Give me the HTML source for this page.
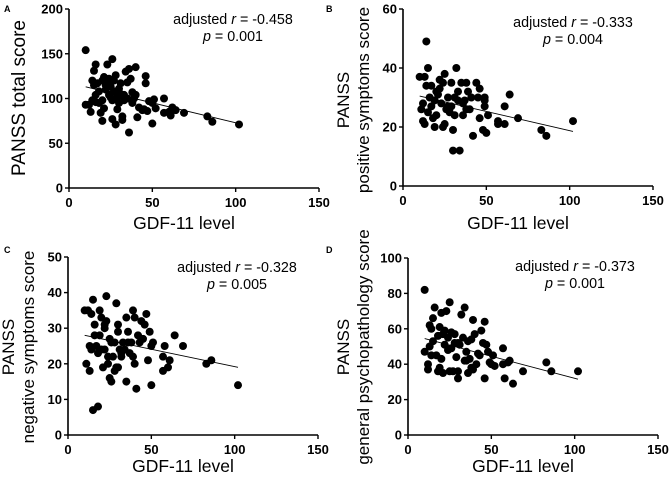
<!DOCTYPE html>
<html><head><meta charset="utf-8"><style>
html,body{margin:0;padding:0;background:#fff;}
svg{display:block;font-family:"Liberation Sans",Arial,sans-serif;}
</style></head><body>
<svg id="chart" width="669" height="486" viewBox="0 0 669 486"></svg>
<script>
const xTicks=[0,50,100,150];
const aY=[0,50,100,150,200];
const bY=[0,20,40,60];
const cY=[0,10,20,30,40,50];
const dY=[0,20,40,60,80,100];
const aPts=[[10,154],[10,93],[12,93],[13,85],[14,120],[15,131],[16,138],[15,115],[17,117],[16,104],[16,96],[18,95],[19,84],[20,75],[20,98],[21,89],[21,124],[22,110],[23,138],[23,118],[24,122],[25,101],[25,113],[26,77],[26,144],[27,108],[27,120],[28,71],[28,126],[29,102],[30,95],[30,111],[31,117],[32,80],[32,76],[33,104],[34,130],[35,118],[35,100],[36,62],[36,133],[37,122],[38,107],[39,100],[40,135],[40,104],[41,79],[42,90],[45,88],[46,125],[46,117],[47,86],[48,97],[50,72],[50,95],[51,99],[52,89],[57,100],[57,84],[60,85],[61,81],[62,90],[64,87],[69,84],[83,80],[86,74],[102,71],[18,108],[22,115],[29,88],[33,98],[24,104],[31,105],[14,98],[38,95],[44,87],[26,98],[20,120]];
const bPts=[[10,37],[11,26],[12,22],[13,37],[13,21],[14,49],[14,34],[15,40],[15,25],[16,30],[17,34],[18,23],[19,20],[19,29],[20,24],[21,31],[22,36],[22,33],[23,28],[24,20],[24,35],[25,21],[25,38],[26,26],[27,30],[28,25],[29,35],[29,27],[30,12],[30,19],[31,24],[32,40],[33,32],[33,29],[34,12],[35,35],[36,24],[37,29],[38,35],[38,26],[39,32],[40,26],[42,17],[44,35],[45,30],[46,33],[46,23],[48,19],[49,27],[49,30],[50,18],[51,24],[57,21],[57,22],[61,27],[61,21],[64,31],[69,23],[83,19],[86,17],[102,22],[12,28],[17,27],[20,32],[27,27],[31,30],[36,28],[41,30],[49,29]];
const cPts=[[10,35],[11,20],[12,35],[13,18],[13,25],[14,34],[14,24],[15,7],[15,38],[16,31],[16,28],[17,25],[18,8],[18,23],[19,28],[19,35],[20,33],[21,19],[22,31],[22,24],[23,39],[23,32],[24,22],[24,20],[25,27],[25,16],[26,15],[27,22],[28,18],[28,26],[29,37],[29,19],[30,31],[30,29],[31,24],[32,22],[33,26],[34,24],[35,33],[35,15],[36,29],[37,23],[38,26],[39,35],[39,22],[40,20],[40,33],[41,13],[42,28],[43,26],[44,32],[45,27],[46,31],[47,34],[48,21],[49,29],[50,14],[50,25],[51,26],[57,22],[57,18],[58,25],[60,19],[61,21],[64,28],[69,25],[83,20],[86,21],[102,14],[20,24],[26,26],[32,23],[36,26],[30,19],[22,30]];
const dPts=[[10,82],[10,47],[12,37],[12,40],[13,62],[13,50],[14,60],[14,45],[15,66],[15,53],[16,72],[17,45],[18,36],[19,38],[19,61],[20,69],[20,43],[21,35],[21,57],[22,51],[22,59],[23,70],[24,55],[25,75],[25,36],[26,49],[27,36],[28,52],[28,57],[29,44],[30,32],[30,36],[31,51],[32,68],[33,55],[34,42],[34,72],[35,47],[36,35],[36,53],[37,43],[38,54],[39,65],[39,37],[40,57],[41,40],[42,46],[43,45],[44,59],[45,52],[46,32],[46,64],[47,51],[48,47],[49,41],[50,40],[51,45],[52,39],[57,49],[57,40],[58,32],[60,41],[61,42],[63,29],[69,36],[83,41],[86,36],[102,36],[18,56],[24,48],[30,52],[35,42],[38,38],[26,58]];
const aFit=[[10,113],[102,72]];
const bFit=[[10,30.5],[102,18.5]];
const cFit=[[10,28],[102,19]];
const dFit=[[10,54.5],[102,31.5]];

const NS='http://www.w3.org/2000/svg';
const svg=document.getElementById('chart');
function mk(tag,attrs,parent){const e=document.createElementNS(NS,tag);for(const k in attrs)e.setAttribute(k,attrs[k]);(parent||svg).appendChild(e);return e;}

const panels=[
 {id:'a',letter:'A',lx:4,ly:12,x0:69,x1:319,yTop:9,yBot:188,yMax:200,yT:aY,pts:aPts,fit:aFit,r:'-0.458',p:'0.001',ax:233,ay:24,titles:['PANSS total score'],tfs:19,tx:[25],ty:98,xtY:229},
 {id:'b',letter:'B',lx:326,ly:12,x0:403,x1:653,yTop:9,yBot:186,yMax:60,yT:bY,pts:bPts,fit:bFit,r:'-0.333',p:'0.004',ax:573,ay:27,titles:['PANSS','positive symptoms score'],tfs:17,tx:[349,369],ty:100,xtY:229},
 {id:'c',letter:'C',lx:4,ly:253,x0:68,x1:318,yTop:257,yBot:435,yMax:50,yT:cY,pts:cPts,fit:cFit,r:'-0.328',p:'0.005',ax:237,ay:272,titles:['PANSS','negative symptoms score'],tfs:17,tx:[14,34],ty:347,xtY:472},
 {id:'d',letter:'D',lx:326,ly:253,x0:408,x1:658,yTop:258,yBot:435,yMax:100,yT:dY,pts:dPts,fit:dFit,r:'-0.373',p:'0.001',ax:575,ay:271,titles:['PANSS','general psychopathology score'],tfs:17,tx:[349,369],ty:347,xtY:472}
];

panels.forEach(P=>{
 const g=mk('g',{});
 
 
 const X=v=>P.x0+(P.x1-P.x0)*v/150;
 const Y=v=>P.yBot-(P.yBot-P.yTop)*v/P.yMax;
 const lt=mk('text',{x:P.lx,y:P.ly,'font-size':9,'font-weight':'bold'},g);lt.textContent=P.letter;
 
 
 const ax=mk('path',{d:`M${P.x0},${P.yTop}V${P.yBot}H${P.x1}`,stroke:'#000','stroke-width':1.6,fill:'none'},g);
 
 
 P.yT.forEach(v=>{
  mk('line',{x1:P.x0-4,x2:P.x0,y1:Y(v),y2:Y(v),stroke:'#000','stroke-width':1.4},g);
  const t=mk('text',{x:P.x0-6,y:Y(v)+4.5,'font-size':13,'font-weight':'bold','text-anchor':'end'},g);t.textContent=v;
  
  
 });
 xTicks.forEach(v=>{
  mk('line',{x1:X(v),x2:X(v),y1:P.yBot,y2:P.yBot+4,stroke:'#000','stroke-width':1.4},g);
  const t=mk('text',{x:X(v),y:P.yBot+19,'font-size':13,'font-weight':'bold','text-anchor':'middle'},g);t.textContent=v;
  
  
 });
 P.pts.forEach(d=>{
  const c=mk('circle',{cx:X(d[0]),cy:Y(d[1]),r:4,fill:'#000'},g);
  
  
 });
 const fl=mk('line',{x1:X(P.fit[0][0]),y1:Y(P.fit[0][1]),x2:X(P.fit[1][0]),y2:Y(P.fit[1][1]),stroke:'#000','stroke-width':0.9},g);
 
 
 const a1=mk('text',{x:P.ax,y:P.ay,'font-size':14.3,'text-anchor':'middle'},g);
 a1.innerHTML='adjusted  <tspan font-style="italic">r</tspan> = '+P.r;
 
 
 const a2=mk('text',{x:P.ax,y:P.ay+17,'font-size':14.3,'text-anchor':'middle'},g);
 a2.innerHTML='<tspan font-style="italic">p</tspan> = '+P.p;
 
 
 const xt=mk('text',{x:(P.x0+P.x1)/2-10,y:P.xtY,'font-size':17.5,'text-anchor':'middle'},g);xt.textContent='GDF-11 level';
 
 
 P.titles.forEach((s,i)=>{
  const t=mk('text',{x:P.tx[i],y:P.ty,'font-size':P.tfs,'text-anchor':'middle',transform:`rotate(-90 ${P.tx[i]} ${P.ty})`},g);t.textContent=s;
  
  
 });
});
</script>
</body></html>
